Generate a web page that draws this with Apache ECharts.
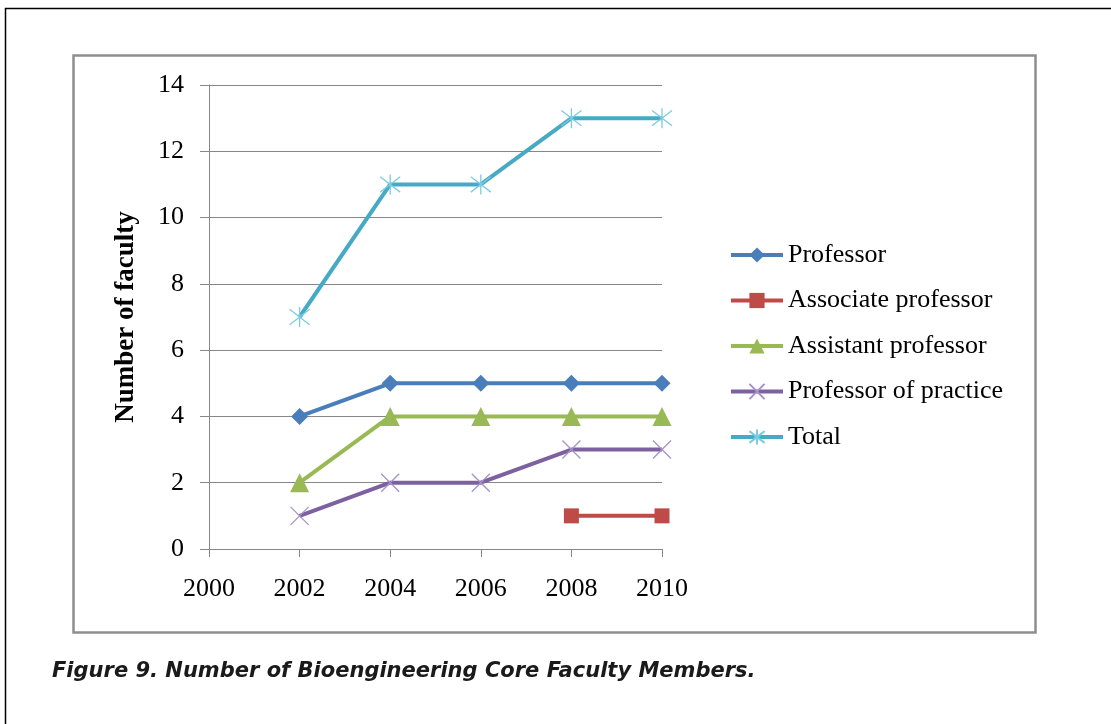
<!DOCTYPE html>
<html>
<head>
<meta charset="utf-8">
<script src="https://cdn.jsdelivr.net/npm/echarts@6/dist/echarts.min.js"></script>
<style>
html,body{margin:0;padding:0;background:#fff;}
#c{width:1111px;height:724px;}
</style>
</head>
<body>
<div id="c"></div>
<script>
const years = [2002, 2004, 2006, 2008, 2010];
const professor = [4, 5, 5, 5, 5];
const associate = [null, null, null, 1, 1];
const assistant = [2, 4, 4, 4, 4];
const practice = [1, 2, 2, 3, 3];
const total = [7, 11, 11, 13, 13];
const seriesNames = ['Professor', 'Associate professor', 'Assistant professor', 'Professor of practice', 'Total'];
const yTicks = [0, 2, 4, 6, 8, 10, 12, 14];
const xTicks = [2000, 2002, 2004, 2006, 2008, 2010];
const yTitle = 'Number of faculty';
const caption = 'Figure 9. Number of Bioengineering Core Faculty Members.';

const pairs = arr => years.map((y, i) => [y, arr[i]]).filter(p => p[1] !== null);
const serif = '"Liberation Serif", "Times New Roman", serif';
const xPath = 'path://M0,0L10,10M10,0L0,10';
const starPath = 'path://M0,0L10,10M10,0L0,10M5,-1.5L5,11.5';

function mk(name, data, color, symbol, size, markerStyle) {
  return {
    name: name, type: 'line', data: pairs(data),
    symbol: symbol, symbolSize: size,
    lineStyle: { color: color, width: 4 },
    itemStyle: markerStyle || { color: color },
    emphasis: { disabled: true },
    z: 3
  };
}

const chart = echarts.init(document.getElementById('c'));
chart.setOption({
  animation: false,
  backgroundColor: '#fff',
  grid: { left: 209, top: 85, right: 449, bottom: 175, containLabel: false },
  xAxis: {
    type: 'value', min: xTicks[0], max: xTicks[xTicks.length - 1], interval: 2,
    axisLine: { show: true, lineStyle: { color: '#878787', width: 1 } },
    axisTick: { show: true, inside: false, length: 8, lineStyle: { color: '#878787' } },
    splitLine: { show: false },
    axisLabel: { color: '#000', fontFamily: serif, fontSize: 26, margin: 27, formatter: v => String(v) }
  },
  yAxis: {
    type: 'value', min: yTicks[0], max: yTicks[yTicks.length - 1], interval: 2,
    name: yTitle, nameLocation: 'middle', nameRotate: 90, nameGap: 69,
    nameTextStyle: { color: '#000', fontFamily: serif, fontSize: 27, fontWeight: 'bold' },
    axisLine: { show: true, lineStyle: { color: '#878787', width: 1 } },
    axisTick: { show: true, inside: false, length: 9, lineStyle: { color: '#878787' } },
    splitLine: { show: true, lineStyle: { color: '#878787', width: 1 } },
    axisLabel: { color: '#000', fontFamily: serif, fontSize: 26, margin: 25 }
  },
  legend: {
    orient: 'vertical', left: 729, top: 242, padding: 0,
    itemWidth: 52, itemHeight: 19, itemGap: 19.5,
    lineStyle: { width: 4 },
    textStyle: { color: '#000', fontFamily: serif, fontSize: 26, padding: [0, 0, 0, 0] },
    data: seriesNames
  },
  series: [
    mk(seriesNames[0], professor, '#4A7EBB', 'diamond', 17),
    mk(seriesNames[1], associate, '#BE4B48', 'rect', 15),
    mk(seriesNames[2], assistant, '#98B954', 'triangle', 19),
    mk(seriesNames[3], practice, '#7D60A0', xPath, 18, { color: 'rgba(0,0,0,0)', borderColor: '#A592C8', borderWidth: 1.3 }),
    mk(seriesNames[4], total, '#46AAC5', starPath, 20, { color: 'rgba(0,0,0,0)', borderColor: '#7CCBE0', borderWidth: 1.3 })
  ],
  graphic: [
    { type: 'line', shape: { x1: 5, y1: 8.5, x2: 1111, y2: 8.5 }, style: { stroke: '#000', lineWidth: 1.5 }, z: 10 },
    { type: 'line', shape: { x1: 5.5, y1: 8, x2: 5.5, y2: 724 }, style: { stroke: '#000', lineWidth: 1.5 }, z: 10 },
    { type: 'rect', shape: { x: 73.5, y: 55.5, width: 962, height: 577 }, style: { fill: 'none', stroke: '#8E8E8E', lineWidth: 2.5 }, z: 10 },
    { type: 'text', left: 52, top: 661, style: { text: caption, fill: '#1a1a1a', font: 'italic bold 21px "DejaVu Sans", sans-serif' }, z: 10 }
  ]
});
</script>
</body>
</html>
